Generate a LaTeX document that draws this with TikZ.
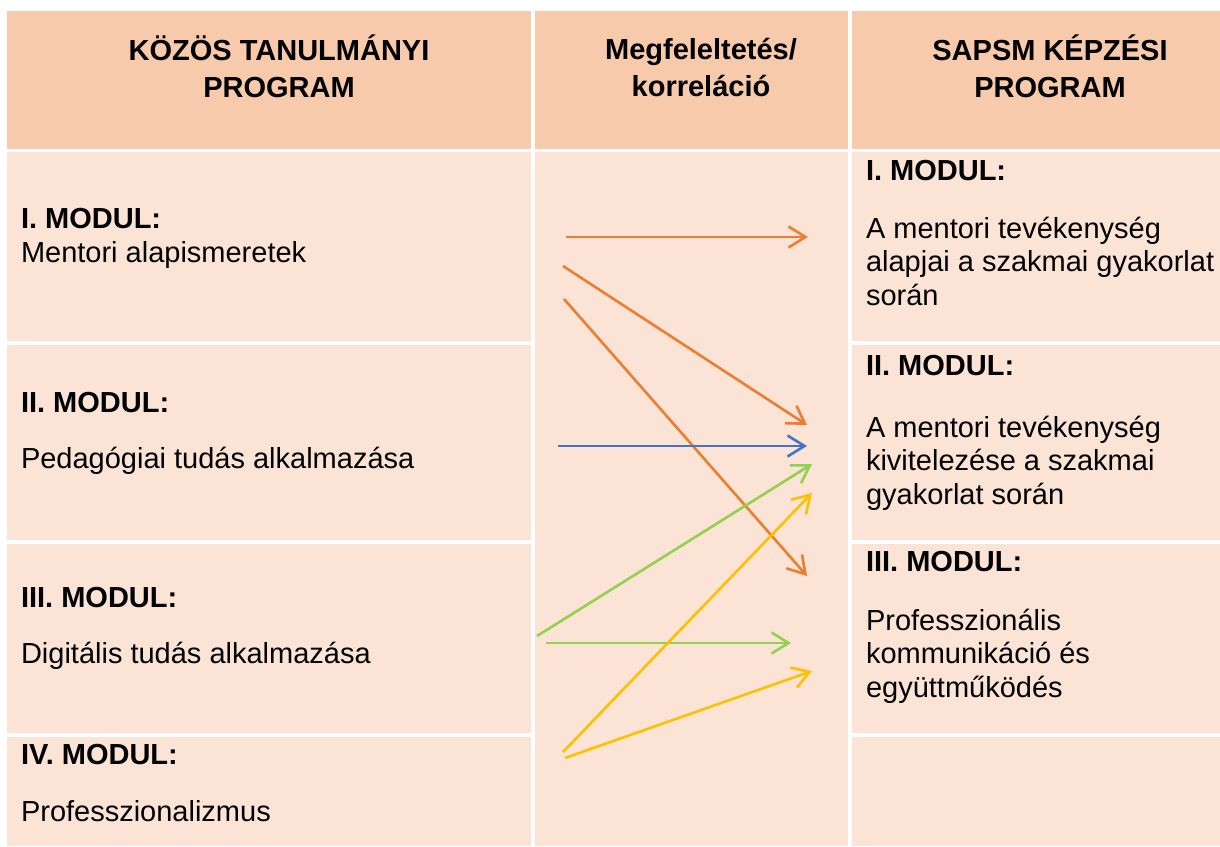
\documentclass[tikz,border=0pt]{standalone}
\usepackage{fontspec}
\setmainfont{Liberation Sans}
\usetikzlibrary{positioning,arrows.meta}
\definecolor{headfill}{HTML}{F7CAAC}
\definecolor{cellfill}{HTML}{FBE4D5}
\definecolor{arrorange}{HTML}{ED7D31}
\definecolor{arrblue}{HTML}{4472C4}
\definecolor{arrgreen}{HTML}{92D050}
\definecolor{arrgold}{HTML}{FFC000}

\begin{document}
\begin{tikzpicture}[x=0.5pt,y=-0.5pt,
  every node/.style={inner sep=0pt,outer sep=0pt,font=\fontsize{14.5pt}{16.75pt}\selectfont},
  cell/.style={fill=cellfill,anchor=north west},
  head/.style={cell,fill=headfill,minimum height=69pt},
  title/.style={anchor=base,align=center,font=\fontsize{14.5pt}{18.35pt}\selectfont\bfseries},
  modul/.style={anchor=base west,font=\fontsize{14.5pt}{16.75pt}\selectfont\bfseries},
  body/.style={anchor=base west,align=left},
  link/.style={line width=1.3pt,-{Straight Barb[length=8.5pt,width=10.5pt]}}]

        \fill[white,use as bounding box] (0,0) rectangle (1220,846);

        \node[head,minimum width=262pt] (H1) at (7,11) {};
        \node[head,minimum width=156.5pt,right=2pt of H1] (H2) {};
        \node[head,minimum width=184pt,right=2pt of H2] (H3) {};

        \node[cell,minimum width=262pt,minimum height=94.5pt] (L1) at (7,152) {};
        \node[cell,minimum width=262pt,minimum height=97.5pt,below=2pt of L1] (L2) {};
        \node[cell,minimum width=262pt,minimum height=94.5pt,below=2pt of L2] (L3) {};
        \node[cell,minimum width=262pt,minimum height=54.5pt,below=2pt of L3] (L4) {};
        \node[cell,minimum width=156.5pt,minimum height=347pt] (M) at (535,152) {};
        \node[cell,minimum width=184pt,minimum height=94.5pt] (R1) at (852,152) {};
        \node[cell,minimum width=184pt,minimum height=97.5pt,below=2pt of R1] (R2) {};
        \node[cell,minimum width=184pt,minimum height=94.5pt,below=2pt of R2] (R3) {};
        \node[cell,minimum width=184pt,minimum height=54.5pt,below=2pt of R3] (R4) {};

        \node[title] (T1) at (279,97) {KÖZÖS TANULMÁNYI\\PROGRAM};
        \node[title] (T2) at (701,96) {Megfeleltetés/\\korreláció};
        \node[title] (T3) at (1050,97) {SAPSM KÉPZÉSI\\PROGRAM};

        \node[modul] (LM1) at (21,228) {I. MODUL:};
        \node[body] (LT1) at (21,262) {Mentori alapismeretek};
        \node[modul] (LM2) at (21,412) {II. MODUL:};
        \node[body] (LT2) at (21,468) {Pedagógiai tudás alkalmazása};
        \node[modul] (LM3) at (21,607) {III. MODUL:};
        \node[body] (LT3) at (21,663) {Digitális tudás alkalmazása};
        \node[modul] (LM4) at (21,764) {IV. MODUL:};
        \node[body] (LT4) at (21,821) {Professzionalizmus};

        \node[modul] (RM1) at (866,180) {I. MODUL:};
        \node[body] (RT1) at (866,305) {A mentori tevékenység\\alapjai a szakmai gyakorlat\\során};
        \node[modul] (RM2) at (866,375) {II. MODUL:};
        \node[body] (RT2) at (866,504) {A mentori tevékenység\\kivitelezése a szakmai\\gyakorlat során};
        \node[modul] (RM3) at (866,571) {III. MODUL:};
        \node[body] (RT3) at (866,697) {Professzionális\\kommunikáció és\\együttműködés};

        \coordinate (A1) at (566,237);  \coordinate (B1) at (808,237);
        \coordinate (A2) at (563,266);  \coordinate (B2) at (807,425);
        \coordinate (A3) at (564,299);  \coordinate (B3) at (807,576);
        \coordinate (A4) at (558,446);  \coordinate (B4) at (807,446);
        \coordinate (A5) at (537,636);  \coordinate (B5) at (812,464);
        \coordinate (A6) at (546,643);  \coordinate (B6) at (791,643);
        \coordinate (A7) at (563,752);  \coordinate (B7) at (812,493);
        \coordinate (A8) at (565,758);  \coordinate (B8) at (812,671);

        \draw[link,arrorange] (A1) -- (B1);
        \draw[link,arrorange] (A2) -- (B2);
        \draw[link,arrorange] (A3) -- (B3);
        \draw[link,arrblue] (A4) -- (B4);
        \draw[link,arrgreen] (A5) -- (B5);
        \draw[link,arrgreen] (A6) -- (B6);
        \draw[link,arrgold] (A7) -- (B7);
        \draw[link,arrgold] (A8) -- (B8);
      \end{tikzpicture}
\end{document}
